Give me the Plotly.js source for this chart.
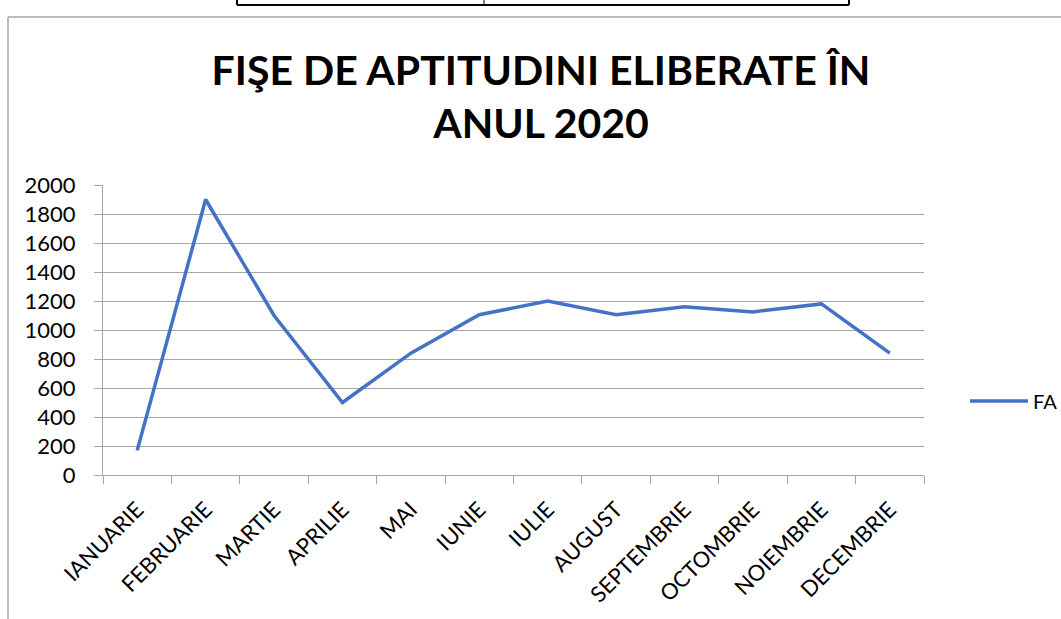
<!DOCTYPE html>
<html>
<head>
<meta charset="utf-8">
<script src="https://cdn.plot.ly/plotly-3.0.1.min.js"></script>
<style>html,body{margin:0;padding:0;background:#fff;}#chart{width:1061px;height:619px;}</style>
</head>
<body>
<div id="chart"></div>
<script>
const months = ["IANUARIE","FEBRUARIE","MARTIE","APRILIE","MAI","IUNIE","IULIE","AUGUST","SEPTEMBRIE","OCTOMBRIE","NOIEMBRIE","DECEMBRIE"];
const faValues = [170, 1900, 1100, 500, 840, 1105, 1200, 1105, 1160, 1125, 1180, 840];
const seriesName = "FA";
const chartTitle = "FIŞE DE APTITUDINI ELIBERATE ÎN<br>ANUL 2020";

const W = 1061, H = 619;
const L = 103, R = 924, T = 185, B = 475;
const px = v => (v - L) / (R - L);
const py = v => (B - v) / (B - T);

const frame = {color: "#A6A6A6", width: 1.5};
const blk = {color: "#000", width: 2};
const shapes = [
  {type: "line", xref: "paper", yref: "paper", x0: px(8), x1: px(1070), y0: py(17), y1: py(17), line: frame},
  {type: "line", xref: "paper", yref: "paper", x0: px(8), x1: px(8), y0: py(17), y1: py(630), line: frame},
  {type: "line", xref: "paper", yref: "paper", x0: px(237), x1: px(849), y0: py(5), y1: py(5), line: blk},
  {type: "line", xref: "paper", yref: "paper", x0: px(237), x1: px(237), y0: py(-5), y1: py(5), line: blk},
  {type: "line", xref: "paper", yref: "paper", x0: px(849), x1: px(849), y0: py(-5), y1: py(5), line: blk},
  {type: "line", xref: "paper", yref: "paper", x0: px(484), x1: px(484), y0: py(-5), y1: py(5), line: {color: "#000", width: 1}}
];

const trace = {
  x: months, y: faValues, name: seriesName, type: "scatter", mode: "lines",
  line: {color: "#4472C4", width: 3.5}
};

const layout = {
  width: W, height: H,
  margin: {l: L, r: W - R, t: T, b: H - B, pad: 0},
  paper_bgcolor: "#fff", plot_bgcolor: "#fff",
  font: {family: "Lato, 'Open Sans', sans-serif", color: "#000", size: 20},
  title: {
    text: chartTitle,
    font: {family: "Lato, sans-serif", size: 41, color: "#000", weight: "bold"},
    xref: "container", x: 541 / W, xanchor: "center",
    yref: "container", y: 1 - 85 / H, yanchor: "top"
  },
  xaxis: {
    type: "category", range: [-0.5, 11.5],
    showgrid: false, showline: true, linecolor: "#A6A6A6", linewidth: 1,
    ticks: "outside", ticklen: 8, tickcolor: "#A6A6A6", tickson: "boundaries",
    ticklabelstandoff: 12,
    tickangle: -45, tickfont: {size: 22, color: "#000"}, zeroline: false
  },
  yaxis: {
    range: [0, 2000], dtick: 200, tick0: 0,
    showgrid: true, gridcolor: "#A6A6A6", gridwidth: 1,
    showline: true, linecolor: "#A6A6A6", linewidth: 1,
    ticks: "outside", ticklen: 8, tickcolor: "#A6A6A6",
    ticklabelstandoff: 14,
    tickfont: {size: 22, color: "#000"}, zeroline: false
  },
  showlegend: true,
  legend: {
    xref: "container", yref: "container",
    x: 965 / W, xanchor: "left", y: 1 - 401 / H, yanchor: "middle",
    itemwidth: 58,
    font: {size: 20, color: "#000"}, bgcolor: "rgba(0,0,0,0)"
  },
  shapes: shapes
};

Plotly.newPlot("chart", [trace], layout, {displayModeBar: false, staticPlot: true});
</script>
</body>
</html>
